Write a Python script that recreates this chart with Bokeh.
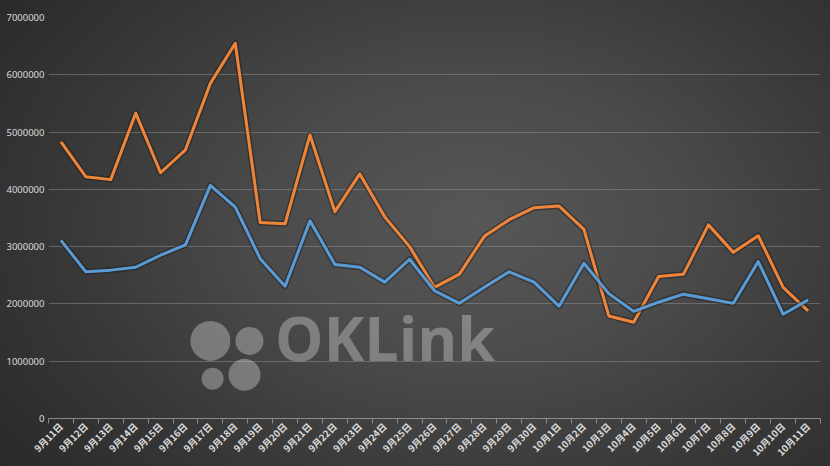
import numpy as np
from bokeh.plotting import figure
from bokeh.models import Range1d, FixedTicker, BasicTickFormatter, Label, GlobalInlineStyleSheet
from bokeh.embed import file_html
from bokeh.resources import INLINE

dates = ["9月11日", "9月12日", "9月13日", "9月14日", "9月15日", "9月16日", "9月17日",
         "9月18日", "9月19日", "9月20日", "9月21日", "9月22日", "9月23日", "9月24日",
         "9月25日", "9月26日", "9月27日", "9月28日", "9月29日", "9月30日",
         "10月1日", "10月2日", "10月3日", "10月4日", "10月5日", "10月6日", "10月7日",
         "10月8日", "10月9日", "10月10日", "10月11日"]

orange_vals = [4830000, 4220000, 4170000, 5330000, 4290000, 4690000, 5850000, 6550000,
               3420000, 3400000, 4950000, 3610000, 4270000, 3520000, 3000000, 2290000,
               2520000, 3180000, 3470000, 3680000, 3710000, 3300000, 1790000, 1680000,
               2480000, 2520000, 3380000, 2900000, 3190000, 2290000, 1880000]

blue_vals = [3110000, 2560000, 2590000, 2640000, 2850000, 3030000, 4070000, 3690000,
             2790000, 2310000, 3450000, 2690000, 2640000, 2380000, 2780000, 2230000,
             2010000, 2290000, 2560000, 2380000, 1960000, 2710000, 2180000, 1870000,
             2030000, 2170000, 2090000, 2010000, 2740000, 1820000, 2070000]

y_ticks = [0, 1000000, 2000000, 3000000, 4000000, 5000000, 6000000, 7000000]

n = len(dates)
xs = [i + 0.5 for i in range(n)]

p = figure(width=830, height=466, output_backend="svg", toolbar_location=None,
           x_range=Range1d(0, n), y_range=Range1d(0, 7000000),
           min_border_left=48, min_border_right=10, min_border_top=17, min_border_bottom=46,
           styles={"background": "radial-gradient(ellipse 70% 85% at 57% 48%, #575757 0%, #4b4b4b 35%, #383838 70%, #2a2a2a 100%)"},
           stylesheets=[GlobalInlineStyleSheet(css="body{background:#2e2e2e;}")])
p.background_fill_alpha = 0
p.border_fill_alpha = 0
p.outline_line_color = None

# grid
p.xgrid.grid_line_color = None
p.ygrid.grid_line_color = "#8a8a8a"
p.ygrid.grid_line_alpha = 0.55
p.ygrid.grid_line_width = 1

# x axis
p.xaxis.ticker = FixedTicker(ticks=xs, minor_ticks=list(range(n + 1)))
p.xaxis.major_label_overrides = {x: d for x, d in zip(xs, dates)}
p.xaxis.major_label_orientation = np.pi / 4
p.xaxis.major_tick_line_color = None
p.xaxis.major_tick_out = 0
p.xaxis.major_tick_in = 0
p.xaxis.minor_tick_line_color = "#8a8a8a"
p.xaxis.minor_tick_out = 5
p.xaxis.minor_tick_in = 0
p.xaxis.axis_line_color = "#8a8a8a"
p.xaxis.major_label_text_color = "#dcdcdc"
p.xaxis.major_label_text_font = "Noto Sans CJK SC"
p.xaxis.major_label_text_font_size = "9.5px"
p.xaxis.major_label_text_font_style = "bold"
p.xaxis.major_label_standoff = 1

# y axis
p.yaxis.ticker = FixedTicker(ticks=y_ticks)
p.yaxis.formatter = BasicTickFormatter(use_scientific=False)
p.yaxis.axis_line_color = None
p.yaxis.major_tick_line_color = None
p.yaxis.major_tick_out = 0
p.yaxis.major_tick_in = 0
p.yaxis.minor_tick_line_color = None
p.yaxis.major_label_text_color = "#dcdcdc"
p.yaxis.major_label_text_font = "Noto Sans"
p.yaxis.major_label_text_font_size = "9.5px"
p.yaxis.major_label_standoff = 4

# watermark
wm_x = [6.5, 8.07, 6.59, 7.87]
wm_y = [1355000, 1355000, 695000, 764000]
wm_size = [40, 28, 22, 32]
p.scatter(wm_x, wm_y, size=wm_size, marker="circle", fill_color="#ffffff",
          fill_alpha=0.3, line_color=None)
p.add_layout(Label(x=9.1, y=690000, text="OKLink", text_font="Open Sans",
                   text_font_size="61px", text_color="#ffffff", text_alpha=0.3,
                   text_font_style="bold"))

# lines with shadow
for vals, col in ((orange_vals, "#F0853A"), (blue_vals, "#5B9BD5")):
    p.line(xs, vals, line_width=6, line_color="#1a1a1a", line_alpha=0.45, line_join="round")
    p.line(xs, vals, line_width=3, line_color=col, line_join="round")

open("out.html", "w").write(file_html(p, INLINE))
